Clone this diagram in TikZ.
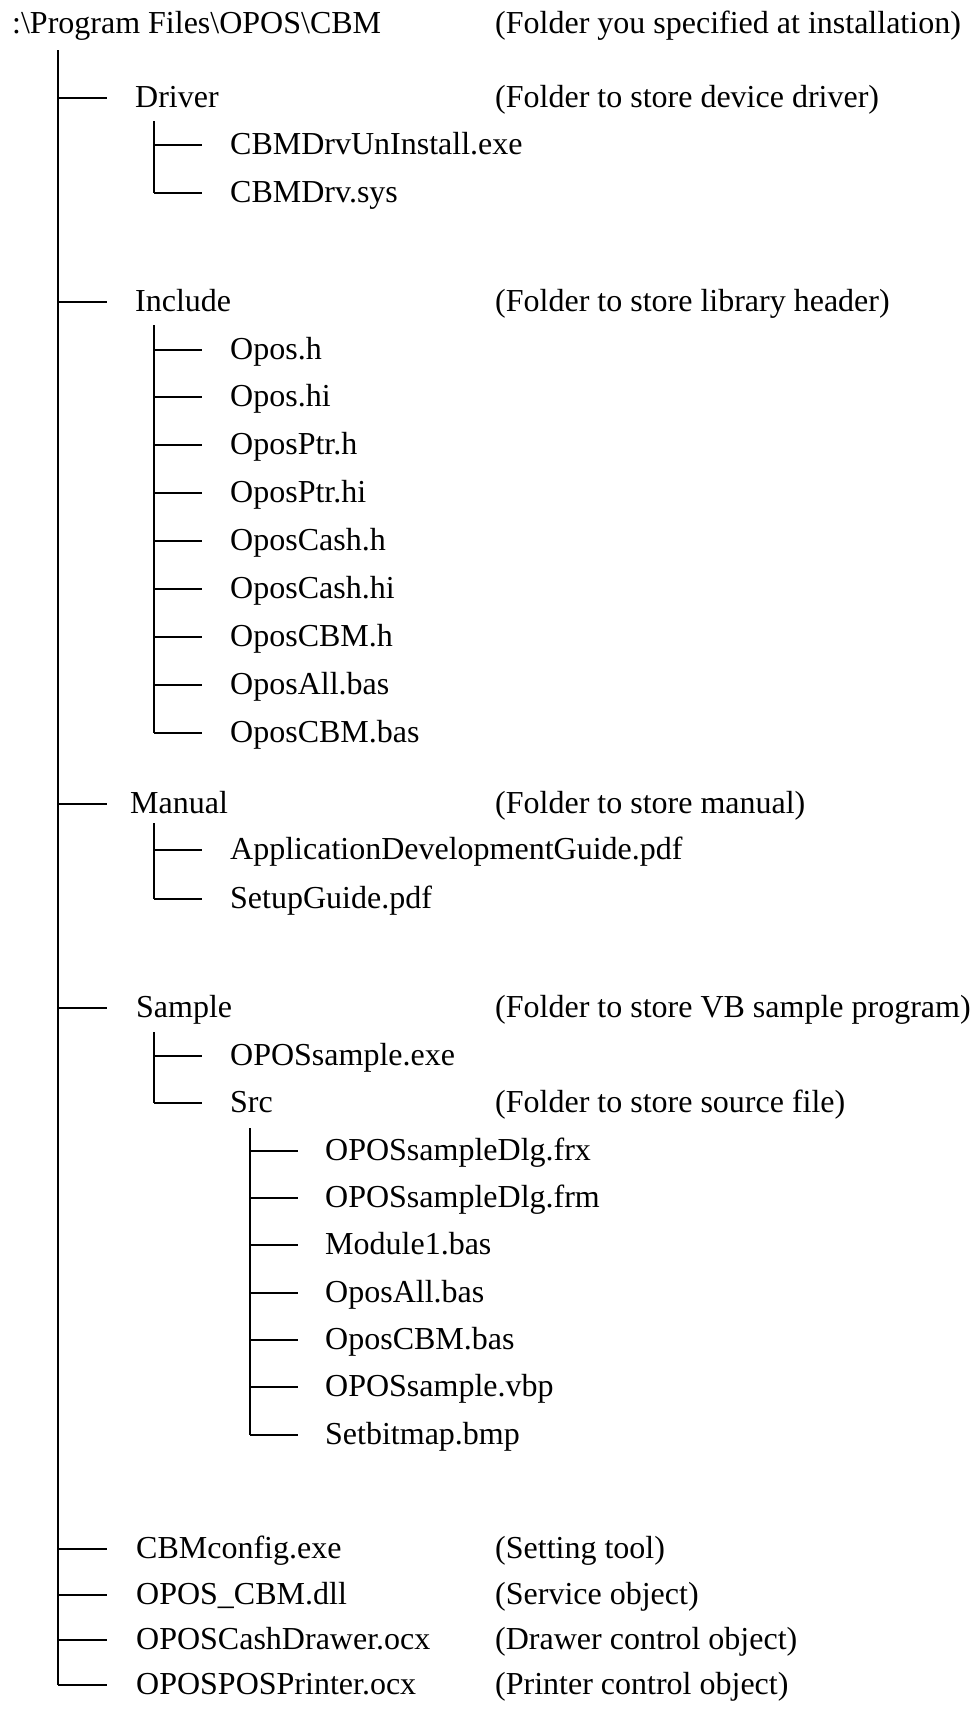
\documentclass[tikz,border=0pt]{standalone}
\usepackage{fontspec}
\setmainfont{Liberation Serif}
\begin{document}
\begin{tikzpicture}[x=1pt,y=-1pt,
  lbl/.style={anchor=base west,inner sep=0pt,font=\fontsize{32}{38}\selectfont},
  br/.style={line width=1.8pt,line cap=butt}]
\useasboundingbox (0,0) rectangle (973,1713);
% root
\node[lbl] (root) at (12,33) {:\textbackslash Program Files\textbackslash OPOS\textbackslash CBM};
\node[lbl] (rootc) at (495,33) {(Folder you specified at installation)};
\coordinate (t0) at (58,50);
\coordinate (t0e) at (58,1685);
\draw[br] (t0) -- (t0e);
% level 1 rows: y positions
\foreach \nm/\y/\x/\txt in {
  drv/98/135/Driver,
  inc/302/135/Include,
  man/804/130/Manual,
  smp/1008/136/Sample,
  cfg/1549/136/CBMconfig.exe,
  dll/1595/136/OPOS\_CBM.dll,
  cdr/1640/136/OPOSCashDrawer.ocx,
  ptr/1685/136/OPOSPOSPrinter.ocx}{
  \node[lbl] (\nm) at (\x,\y+9.5) {\txt};
  \coordinate (\nm-b) at (58,\y);
  \coordinate (\nm-e) at (106.5,\y);
  \draw[br] (\nm-b) -- (\nm-e);
}
% comments
\node[lbl] (drvc) at (495,98+9.5) {(Folder to store device driver)};
\node[lbl] (incc) at (495,302+9.5) {(Folder to store library header)};
\node[lbl] (manc) at (495,804+9.5) {(Folder to store manual)};
\node[lbl] (smpc) at (495,1008+9.5) {(Folder to store VB sample program)};
\node[lbl] (cfgc) at (495,1549+9.5) {(Setting tool)};
\node[lbl] (dllc) at (495,1595+9.5) {(Service object)};
\node[lbl] (cdrc) at (495,1640+9.5) {(Drawer control object)};
\node[lbl] (ptrc) at (495,1685+9.5) {(Printer control object)};
% level 2 trunks
\coordinate (drv-t) at (154,121);
\coordinate (inc-t) at (154,325);
\coordinate (man-t) at (154,823);
\coordinate (smp-t) at (154,1032);
\foreach \nm/\y/\txt in {
  d1/145/CBMDrvUnInstall.exe,
  d2/193/CBMDrv.sys,
  i1/350/Opos.h,
  i2/397/Opos.hi,
  i3/445/OposPtr.h,
  i4/493/OposPtr.hi,
  i5/541/OposCash.h,
  i6/589/OposCash.hi,
  i7/637/OposCBM.h,
  i8/685/OposAll.bas,
  i9/733/OposCBM.bas,
  m1/850/ApplicationDevelopmentGuide.pdf,
  m2/899/SetupGuide.pdf,
  s1/1056/OPOSsample.exe,
  s2/1103/Src}{
  \node[lbl] (\nm) at (230,\y+9.5) {\txt};
  \coordinate (\nm-b) at (154,\y);
  \coordinate (\nm-e) at (202,\y);
  \draw[br] (\nm-b) -- (\nm-e);
}
\draw[br] (drv-t) -- (d2-b);
\draw[br] (inc-t) -- (i9-b);
\draw[br] (man-t) -- (m2-b);
\draw[br] (smp-t) -- (s2-b);
\node[lbl] (s2c) at (495,1103+9.5) {(Folder to store source file)};
% level 3
\coordinate (src-t) at (250,1128);
\foreach \nm/\y/\txt in {
  r1/1151/OPOSsampleDlg.frx,
  r2/1198/OPOSsampleDlg.frm,
  r3/1245/Module1.bas,
  r4/1293/OposAll.bas,
  r5/1340/OposCBM.bas,
  r6/1387/OPOSsample.vbp,
  r7/1435/Setbitmap.bmp}{
  \node[lbl] (\nm) at (325,\y+9.5) {\txt};
  \coordinate (\nm-b) at (250,\y);
  \coordinate (\nm-e) at (298,\y);
  \draw[br] (\nm-b) -- (\nm-e);
}
\draw[br] (src-t) -- (r7-b);
\end{tikzpicture}
\end{document}
